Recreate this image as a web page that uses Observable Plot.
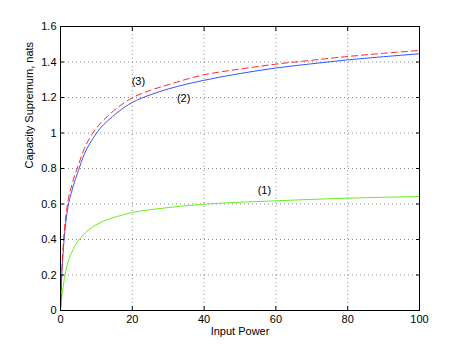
<!DOCTYPE html>
<html><head><meta charset="utf-8">
<script src="https://cdn.jsdelivr.net/npm/d3@7"></script>
<script src="https://cdn.jsdelivr.net/npm/@observablehq/plot@0.6"></script>
<style>body{margin:0;background:#fff;} svg{display:block}</style>
</head><body><div id="chart"></div>
<script>
const power  = [0, 0.37, 0.84, 1.8, 3.2, 5, 6.5, 8.7, 11, 13, 16, 20, 25, 30, 40, 50, 60, 70, 80, 90, 100];
const curve1 = [0, 0.08, 0.15, 0.25, 0.33, 0.394, 0.43, 0.467, 0.494, 0.511, 0.531, 0.552, 0.568, 0.58, 0.599, 0.61, 0.618, 0.626, 0.633, 0.638, 0.642];
const curve2 = [0, 0.2, 0.357, 0.546, 0.676, 0.789, 0.875, 0.958, 1.025, 1.066, 1.118, 1.172, 1.215, 1.248, 1.297, 1.335, 1.366, 1.39, 1.412, 1.43, 1.446];
const curve3 = [0, 0.22, 0.39, 0.58, 0.71, 0.82, 0.905, 0.99, 1.052, 1.092, 1.145, 1.198, 1.24, 1.272, 1.328, 1.36, 1.388, 1.41, 1.431, 1.449, 1.465];
const xTicks = [0, 20, 40, 60, 80, 100];
const yTicks = [0, 0.2, 0.4, 0.6, 0.8, 1, 1.2, 1.4, 1.6];
const curveLabels = [
  {x: 21.7, y: 1.29, text: "(3)"},
  {x: 34.3, y: 1.194, text: "(2)"},
  {x: 56.8, y: 0.676, text: "(1)"}
];
const xLabel = "Input Power";
const yLabel = "Capacity Supremum, nats";

const rows = (ys) => power.map((p, i) => ({x: p, y: ys[i]}));
const innerX = xTicks.filter(t => t > 0 && t < 100);
const innerY = yTicks.filter(t => t > 0 && t < 1.6);
const noText = () => "";
const plain = (d) => String(d);

const chart = Plot.plot({
  width: 463, height: 349,
  marginLeft: 60, marginRight: 44, marginTop: 26, marginBottom: 39,
  style: {fontFamily: "'Liberation Sans', Arial, Helvetica, sans-serif", fontSize: "11px", background: "#fff", color: "#000"},
  x: {domain: [0, 100]},
  y: {domain: [0, 1.6]},
  marks: [
    Plot.ruleX(innerX, {stroke: "#888", strokeDasharray: "1,3"}),
    Plot.ruleY(innerY, {stroke: "#888", strokeDasharray: "1,3"}),
    Plot.line(rows(curve1), {x: "x", y: "y", stroke: "#66ee22", strokeWidth: 1, curve: "monotone-x"}),
    Plot.line(rows(curve2), {x: "x", y: "y", stroke: "#3355ff", strokeWidth: 1, curve: "monotone-x"}),
    Plot.line(rows(curve3), {x: "x", y: "y", stroke: "#ff2222", strokeWidth: 1, strokeDasharray: "6,4", curve: "monotone-x"}),
    Plot.text(curveLabels, {x: "x", y: "y", text: "text", fontSize: 11, fill: "#000"}),
    Plot.axisX(xTicks, {anchor: "bottom", tickSize: 0, tickPadding: 5, tickFormat: plain, label: null}),
    Plot.axisY(yTicks, {anchor: "left", tickSize: 0, tickPadding: 4, tickFormat: plain, label: null}),
    Plot.axisX(xTicks, {anchor: "bottom", tickSize: -4, tickFormat: noText, label: null}),
    Plot.axisX(xTicks, {anchor: "top", tickSize: -4, tickFormat: noText, label: null}),
    Plot.axisY(yTicks, {anchor: "left", tickSize: -4, tickFormat: noText, label: null}),
    Plot.axisY(yTicks, {anchor: "right", tickSize: -4, tickFormat: noText, label: null}),
    Plot.frame({stroke: "#000", strokeWidth: 1}),
    Plot.text([xLabel], {frameAnchor: "bottom", dy: 24, fontSize: 11, fill: "#000"}),
    Plot.text([yLabel], {frameAnchor: "left", dx: -31, rotate: -90, fontSize: 11, fill: "#000"})
  ]
});
document.getElementById("chart").appendChild(chart);
</script>
</body></html>
